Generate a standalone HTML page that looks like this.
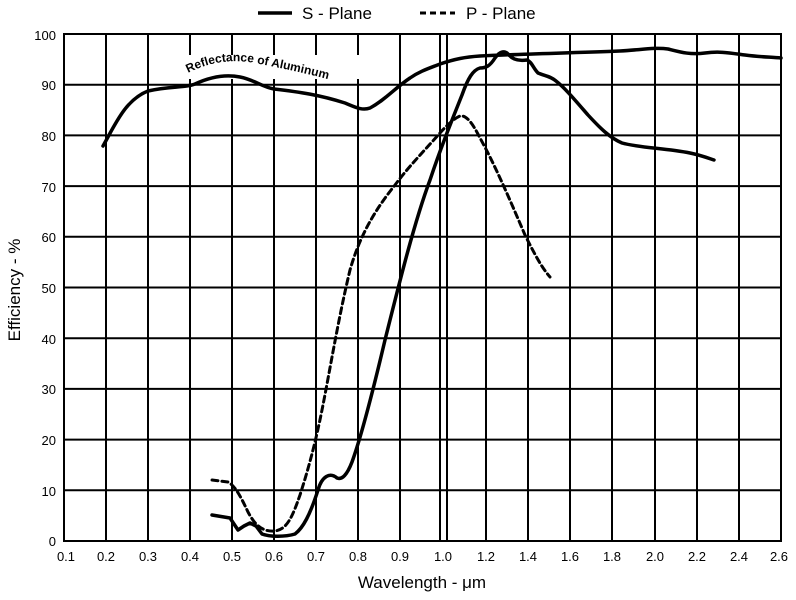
<!DOCTYPE html>
<html><head><meta charset="utf-8"><style>
html,body{margin:0;padding:0;background:#fff;}
svg{display:block;font-family:"Liberation Sans",sans-serif;}
</style></head><body>
<svg width="796" height="600" viewBox="0 0 796 600">
<g stroke="#000" stroke-width="2" fill="none">
<rect x="64" y="34" width="717" height="507"/>
<line x1="64" x2="781" y1="84.7" y2="84.7"/><line x1="64" x2="781" y1="135.4" y2="135.4"/>
<line x1="64" x2="781" y1="186.1" y2="186.1"/><line x1="64" x2="781" y1="236.8" y2="236.8"/>
<line x1="64" x2="781" y1="287.5" y2="287.5"/><line x1="64" x2="781" y1="338.2" y2="338.2"/>
<line x1="64" x2="781" y1="388.9" y2="388.9"/><line x1="64" x2="781" y1="439.6" y2="439.6"/>
<line x1="64" x2="781" y1="490.3" y2="490.3"/>
<line x1="106" x2="106" y1="34" y2="541"/><line x1="148" x2="148" y1="34" y2="541"/>
<line x1="190" x2="190" y1="34" y2="541"/><line x1="232" x2="232" y1="34" y2="541"/>
<line x1="274" x2="274" y1="34" y2="541"/><line x1="316" x2="316" y1="34" y2="541"/>
<line x1="358" x2="358" y1="34" y2="541"/><line x1="400" x2="400" y1="34" y2="541"/>
<line x1="440" x2="440" y1="34" y2="541"/><line x1="447" x2="447" y1="34" y2="541"/>
<line x1="486" x2="486" y1="34" y2="541"/><line x1="528" x2="528" y1="34" y2="541"/>
<line x1="570" x2="570" y1="34" y2="541"/><line x1="612" x2="612" y1="34" y2="541"/>
<line x1="655" x2="655" y1="34" y2="541"/><line x1="697" x2="697" y1="34" y2="541"/>
<line x1="739" x2="739" y1="34" y2="541"/>
</g>
<rect x="185" y="55" width="180" height="24" fill="#fff"/>
<g fill="none" stroke="#000" stroke-width="3.5" stroke-linejoin="round" stroke-linecap="round">
<path d="M103,146 C115,125 125,100 148,91 C170,86 185,88 195,84 C210,77 225,74 240,77 C255,80 262,87 274,89 C300,92 320,95 345,103 C355,107 362,111 370,108 C385,100 395,88 410,78 C420,71 430,68 440,64 C455,59 465,57 480,56 C520,54 570,53 620,51 C640,50 655,47 668,49 C680,52 690,55 705,53 C720,51 730,53 745,55 C760,57 770,57 781,58"/>
<path d="M212,515 L230,518 L238,530 L244,526 L250,523 L256,526 L262,534 C270,537 285,537 295,534 C303,528 310,515 318,490 C322,476 330,472 337,478 C342,480 347,475 352,462 C360,440 372,395 385,340 C400,280 415,220 430,180 C440,150 450,125 462,95 C468,78 473,70 480,68 C486,68 490,66 495,58 C500,51 505,50 509,55 C513,60 520,61 527,60 C532,62 533,68 538,73 C545,76 550,76 556,81 C565,88 575,100 588,115 C600,128 610,138 622,143 C640,148 665,148 690,153 C700,155 708,158 714,160"/>
<path stroke-width="3" stroke-dasharray="6,4" d="M212,480 L228,482 C235,486 240,495 248,512 C255,525 262,532 275,531 C287,529 292,518 300,495 C308,470 315,445 322,410 C330,370 338,320 350,270 C360,235 375,210 395,185 C410,165 425,150 440,133 C448,124 455,118 460,116 C466,115 472,122 480,138 C495,165 510,200 525,235 C535,255 542,268 550,277"/>
</g>
<path id="lbl" d="M188,73 C210,62 232,58 260,64 C290,70 330,78 362,90" fill="none"/>
<text font-size="12" font-weight="bold"><textPath href="#lbl">Reflectance  of  Aluminum</textPath></text>
<line x1="258" x2="292" y1="13" y2="13" stroke="#000" stroke-width="3.5"/>
<text x="302" y="19" font-size="17">S - Plane</text>
<line x1="420" x2="455" y1="13" y2="13" stroke="#000" stroke-width="3" stroke-dasharray="6,4"/>
<text x="466" y="19" font-size="17">P - Plane</text>
<g font-size="13" text-anchor="end">
<text x="56" y="40">100</text><text x="56" y="90">90</text><text x="56" y="141">80</text>
<text x="56" y="192">70</text><text x="56" y="242">60</text><text x="56" y="293">50</text>
<text x="56" y="344">40</text><text x="56" y="394">30</text><text x="56" y="445">20</text>
<text x="56" y="496">10</text><text x="56" y="546">0</text>
</g>
<g font-size="13" text-anchor="middle">
<text x="66" y="561">0.1</text><text x="106" y="561">0.2</text><text x="148" y="561">0.3</text>
<text x="190" y="561">0.4</text><text x="232" y="561">0.5</text><text x="274" y="561">0.6</text>
<text x="316" y="561">0.7</text><text x="358" y="561">0.8</text><text x="400" y="561">0.9</text>
<text x="443" y="561">1.0</text><text x="486" y="561">1.2</text><text x="528" y="561">1.4</text>
<text x="570" y="561">1.6</text><text x="612" y="561">1.8</text><text x="655" y="561">2.0</text>
<text x="697" y="561">2.2</text><text x="739" y="561">2.4</text><text x="779" y="561">2.6</text>
</g>
<text x="422" y="588" font-size="17" text-anchor="middle">Wavelength - μm</text>
<text transform="translate(20,290) rotate(-90)" font-size="17" text-anchor="middle">Efficiency - %</text>
</svg>
</body></html>
